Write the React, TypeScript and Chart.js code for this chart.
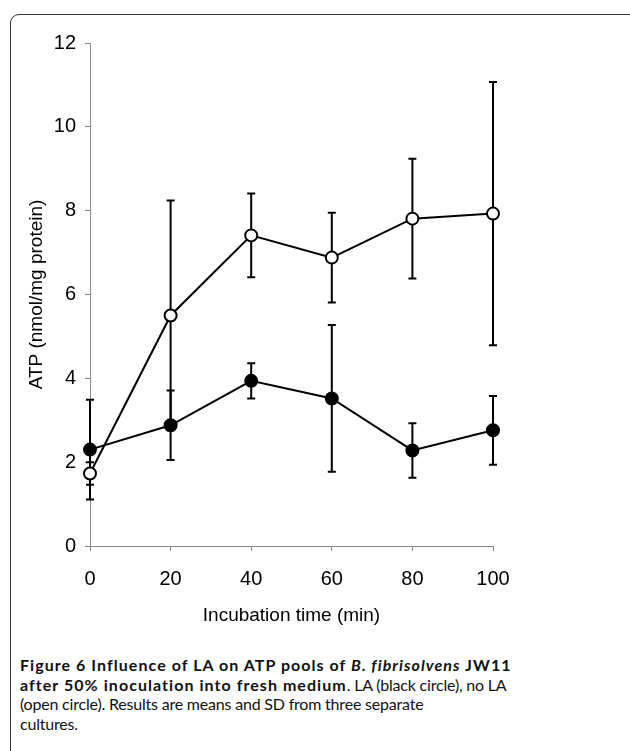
import React, { useEffect, useRef } from "react";
import { Chart, registerables } from "chart.js";

Chart.register(...registerables);

const times = [0, 20, 40, 60, 80, 100];
const laMean = [2.3, 2.88, 3.94, 3.52, 2.28, 2.76];
const laSD = [1.19, 0.83, 0.42, 1.75, 0.65, 0.82];
const noLaMean = [1.73, 5.5, 7.41, 6.88, 7.81, 7.93];
const noLaSD = [0.27, 2.74, 1.0, 1.07, 1.43, 3.14];
const yTicks = [0, 2, 4, 6, 8, 10, 12];
const xTicks = [0, 20, 40, 60, 80, 100];

const errorBarPlugin = {
  id: "errorBars",
  beforeDatasetsDraw(chart: any) {
    const { ctx, scales } = chart;
    const xs = scales.x;
    const ys = scales.y;
    ctx.save();
    ctx.strokeStyle = "#000";
    ctx.lineWidth = 2;
    const groups = [
      { m: noLaMean, s: noLaSD },
      { m: laMean, s: laSD },
    ];
    groups.forEach((g) => {
      times.forEach((t, i) => {
        const px = xs.getPixelForValue(t);
        const top = ys.getPixelForValue(g.m[i] + g.s[i]);
        const bot = ys.getPixelForValue(g.m[i] - g.s[i]);
        ctx.beginPath();
        ctx.moveTo(px, top);
        ctx.lineTo(px, bot);
        ctx.moveTo(px - 4, top);
        ctx.lineTo(px + 4, top);
        ctx.moveTo(px - 4, bot);
        ctx.lineTo(px + 4, bot);
        ctx.stroke();
      });
    });
    ctx.restore();
  },
};

const FONT = "Liberation Sans, Arial, sans-serif";

export default function App() {
  const ref = useRef<HTMLCanvasElement>(null);
  useEffect(() => {
    if (!ref.current) return;
    const chart = new Chart(ref.current, {
      type: "line",
      data: {
        datasets: [
          {
            label: "LA",
            data: times.map((t, i) => ({ x: t, y: laMean[i] })),
            borderColor: "#000",
            borderWidth: 2,
            backgroundColor: "#000",
            pointBackgroundColor: "#000",
            pointBorderColor: "#000",
            pointBorderWidth: 2,
            pointRadius: 6,
            tension: 0,
            clip: false,
          },
          {
            label: "no LA",
            data: times.map((t, i) => ({ x: t, y: noLaMean[i] })),
            borderColor: "#000",
            borderWidth: 2,
            backgroundColor: "#fff",
            pointBackgroundColor: "#fff",
            pointBorderColor: "#000",
            pointBorderWidth: 2,
            pointRadius: 6,
            tension: 0,
            clip: false,
          },
        ],
      },
      options: {
        animation: false,
        responsive: false,
        maintainAspectRatio: false,
        layout: { padding: { left: 0, top: 43, right: 137, bottom: 0 } },
        plugins: { legend: { display: false }, tooltip: { enabled: false } },
        scales: {
          x: {
            type: "linear",
            min: 0,
            max: 100,
            afterBuildTicks: (s: any) => {
              s.ticks = xTicks.map((v) => ({ value: v }));
            },
            afterFit: (s: any) => {
              s.height = 94;
            },
            border: { display: true, color: "#888", width: 1 },
            grid: {
              display: true,
              drawOnChartArea: false,
              drawTicks: true,
              tickLength: 5,
              color: "#888",
            },
            ticks: {
              color: "#000",
              padding: 16,
              font: { family: FONT, size: 20 },
            },
            title: {
              display: true,
              text: "Incubation time (min)",
              color: "#000",
              font: { family: FONT, size: 19 },
              padding: { top: 0, bottom: 13 },
            },
          },
          y: {
            type: "linear",
            min: 0,
            max: 12,
            afterBuildTicks: (s: any) => {
              s.ticks = yTicks.map((v) => ({ value: v }));
            },
            afterFit: (s: any) => {
              s.width = 90;
            },
            border: { display: true, color: "#888", width: 1 },
            grid: {
              display: true,
              drawOnChartArea: false,
              drawTicks: true,
              tickLength: 5,
              color: "#888",
            },
            ticks: {
              color: "#000",
              padding: 9,
              font: { family: FONT, size: 20 },
            },
            title: {
              display: true,
              text: "ATP (nmol/mg protein)",
              color: "#000",
              font: { family: FONT, size: 19 },
              padding: { top: 25, bottom: 0 },
            },
          },
        },
      },
      plugins: [errorBarPlugin],
    });
    return () => chart.destroy();
  }, []);

  const cap: React.CSSProperties = {
    position: "absolute",
    left: 20,
    top: 655,
    fontFamily: "Lato, 'Open Sans', sans-serif",
    fontSize: 16,
    lineHeight: "19.5px",
    color: "#111",
    whiteSpace: "nowrap",
    letterSpacing: "-0.2px",
  };
  const bold: React.CSSProperties = { fontWeight: 700, letterSpacing: "1.05px" };

  return (
    <div style={{ position: "absolute", left: 0, top: 0, width: 630, height: 751, overflow: "hidden", background: "#fff" }}>
      <div
        style={{
          position: "absolute",
          left: 10,
          top: 14,
          width: 640,
          height: 780,
          border: "1.5px solid #333",
          borderRadius: 9,
          boxSizing: "border-box",
        }}
      />
      <canvas ref={ref} width={630} height={640} style={{ position: "absolute", left: 0, top: 0, width: 630, height: 640 }} />
      <div style={cap}>
        <div>
          <span style={bold}>Figure 6 Influence of LA on ATP pools of <i>B. fibrisolvens</i> JW11</span>
        </div>
        <div>
          <span style={bold}>after 50% inoculation into fresh medium</span>. LA (black circle), no LA
        </div>
        <div>(open circle). Results are means and SD from three separate</div>
        <div>cultures.</div>
      </div>
    </div>
  );
}
